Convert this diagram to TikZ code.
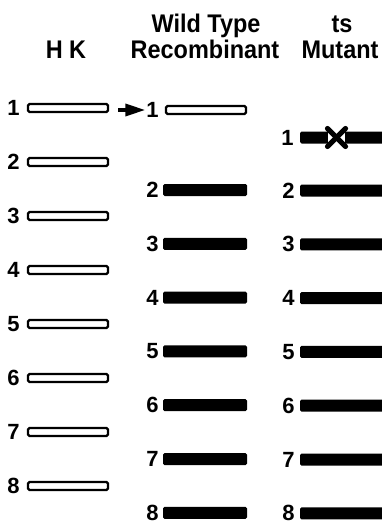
\documentclass[tikz,border=0pt]{standalone}
\usepackage{fontspec}
\usepackage{tikz}
\usetikzlibrary{positioning,arrows.meta,calc}
\newfontfamily\hdfont{Liberation Sans}[FakeStretch=0.92]
\newfontfamily\numfont{Liberation Sans}
\tikzset{
  colhead/.style={font=\hdfont\bfseries\fontsize{25.5}{28}\selectfont,
    anchor=base,inner sep=0pt},
  num/.style={font=\numfont\bfseries\fontsize{22}{24}\selectfont,inner sep=0pt},
  openbar/.style={draw=black,line width=2.2pt,rounded corners=1.5pt,
    minimum width=80pt,minimum height=8pt,inner sep=0pt},
  solidbar/.style={fill=black,rounded corners=1.5pt,minimum width=84pt,
    minimum height=12pt,inner sep=0pt},
  mutbar/.style={solidbar,minimum width=84pt},
  flow/.style={-{Triangle[length=20pt,width=12pt]},line width=3.5pt,
    shorten <=9pt,shorten >=1pt},
  cross/.style={line width=5.2pt,line cap=round},
}

\begin{document}
\begin{tikzpicture}[x=1pt,y=-1pt]
  \useasboundingbox (0,0) rectangle (381,524);

  % column heads
  \node[colhead] (hkhd) at (66,59) {H K};
  \node[colhead] (wthd) at (206,33) {Wild Type};
  \node[colhead] (wthdb) at (205,59) {Recombinant};
  \node[colhead] (tshd) at (342,33) {ts};
  \node[colhead] (tshdb) at (340,59) {Mutant};

  % HK segments
  \foreach \k in {1,...,8} {
    \node[openbar] (hk\k) at (68,{108+54*(\k-1)}) {};
    \node[num,left=7pt of hk\k] (hkn\k) {\k};
  }

  % wild type recombinant
  \node[openbar] (wt1) at (206,110) {};
  \node[num,left=6pt of wt1] (wtn1) {1};
  \foreach \k in {2,...,8} {
    \node[solidbar] (wt\k) at (205,{190+53.8*(\k-2)}) {};
    \node[num,left=4pt of wt\k] (wtn\k) {\k};
  }

  % ts mutant
  \node[mutbar] (ts1) at (342,137.5) {};
  \node[num,left=6pt of ts1] (tsn1) {1};
  \foreach \k in {2,...,8} {
    \node[mutbar] (ts\k) at (342,{190.5+53.8*(\k-2)}) {};
    \node[num,left=5pt of ts\k] (tsn\k) {\k};
  }

  % segment 1 goes over
  \draw[flow] (hk1.east |- wtn1.west) -- (wtn1.west);

  % lesion on segment 1
  \coordinate (xm) at ([xshift=-5.5pt]ts1.center);
  \fill[white] ([shift={(-8.5,-7)}]xm) rectangle ([shift={(8.5,7)}]xm);
  \draw[cross] ([shift={(-9,-9)}]xm) -- ([shift={(9,9)}]xm);
  \draw[cross] ([shift={(-9,9)}]xm) -- ([shift={(9,-9)}]xm);
\end{tikzpicture}
\end{document}
